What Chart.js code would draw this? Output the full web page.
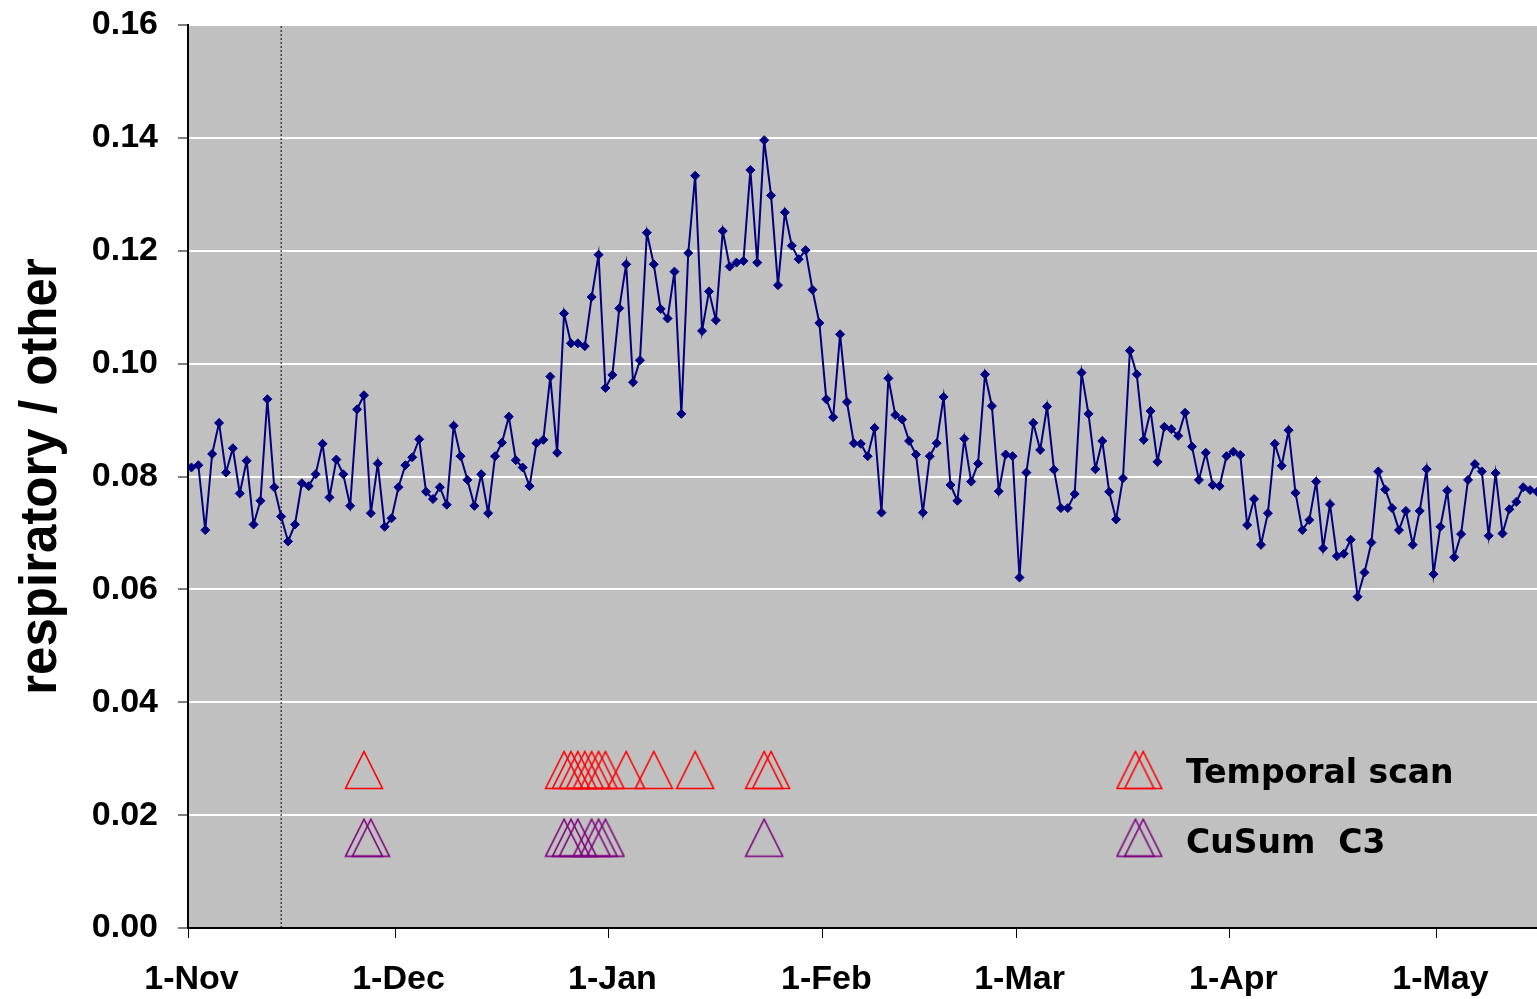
<!DOCTYPE html>
<html>
<head>
<meta charset="utf-8">
<script src="https://cdn.jsdelivr.net/npm/chart.js@4.4.0/dist/chart.umd.min.js"></script>
<style>
  html, body { margin: 0; padding: 0; background: #ffffff; }
</style>
</head>
<body>
<canvas id="chart" width="1537" height="999"></canvas>
<script>
// daily respiratory / other ratio, day 0 = 1-Nov
const ratio = [
  0.0816, 0.0820, 0.0705, 0.0840, 0.0895, 0.0807, 0.0850, 0.0770, 0.0828, 0.0715,
  0.0757, 0.0937, 0.0781, 0.0729, 0.0685, 0.0715, 0.0788, 0.0783, 0.0804, 0.0858,
  0.0763, 0.0830, 0.0804, 0.0748, 0.0919, 0.0944, 0.0735, 0.0823, 0.0711, 0.0726,
  0.0781, 0.0820, 0.0834, 0.0866, 0.0773, 0.0760, 0.0781, 0.0750, 0.0890, 0.0836,
  0.0794, 0.0748, 0.0804, 0.0735, 0.0836, 0.0860, 0.0906, 0.0829, 0.0816, 0.0783,
  0.0859, 0.0865, 0.0977, 0.0842, 0.1089, 0.1036, 0.1036, 0.1031, 0.1118, 0.1193,
  0.0957, 0.0980, 0.1098, 0.1176, 0.0967, 0.1006, 0.1232, 0.1176, 0.1097, 0.1080,
  0.1163, 0.0911, 0.1196, 0.1333, 0.1058, 0.1128, 0.1077, 0.1235, 0.1172, 0.1179,
  0.1182, 0.1343, 0.1179, 0.1396, 0.1298, 0.1139, 0.1268, 0.1209, 0.1185, 0.1201,
  0.1131, 0.1072, 0.0937, 0.0905, 0.1052, 0.0932, 0.0859, 0.0858, 0.0836, 0.0886,
  0.0736, 0.0974, 0.0909, 0.0901, 0.0863, 0.0839, 0.0736, 0.0836, 0.0859, 0.0941,
  0.0785, 0.0757, 0.0867, 0.0791, 0.0823, 0.0981, 0.0925, 0.0774, 0.0839, 0.0836,
  0.0621, 0.0807, 0.0895, 0.0847, 0.0924, 0.0812, 0.0744, 0.0744, 0.0769, 0.0984,
  0.0911, 0.0813, 0.0863, 0.0773, 0.0724, 0.0797, 0.1023, 0.0981, 0.0865, 0.0916,
  0.0826, 0.0888, 0.0884, 0.0872, 0.0913, 0.0853, 0.0794, 0.0842, 0.0785, 0.0783,
  0.0836, 0.0844, 0.0838, 0.0714, 0.0760, 0.0679, 0.0735, 0.0858, 0.0819, 0.0882,
  0.0771, 0.0705, 0.0723, 0.0791, 0.0673, 0.0751, 0.0659, 0.0663, 0.0688, 0.0587,
  0.0630, 0.0683, 0.0809, 0.0777, 0.0744, 0.0705, 0.0739, 0.0679, 0.0739, 0.0813,
  0.0627, 0.0711, 0.0775, 0.0657, 0.0698, 0.0794, 0.0822, 0.0809, 0.0695, 0.0806,
  0.0699, 0.0742, 0.0755, 0.0781, 0.0776, 0.0773
];

// month starts (day index) and their labels
const monthTicks = [0, 30, 61, 92, 120, 151, 181];
const monthLabels = ['1-Nov', '1-Dec', '1-Jan', '1-Feb', '1-Mar', '1-Apr', '1-May'];

// alarm days for the two detection methods
const scanDays = [25, 54, 55, 56, 57, 58, 59, 60, 63, 67, 73, 83, 84];
const cusumDays = [25, 26, 54, 55, 56, 58, 59, 60, 83];
const scanLevel = 0.028;
const cusumLevel = 0.016;

// start of the evaluation period (dotted line)
const markerDay = 13;

const yTicks = [0, 0.02, 0.04, 0.06, 0.08, 0.10, 0.12, 0.14, 0.16];

function makeTriangle(color) {
  const c = document.createElement('canvas');
  c.width = 40;
  c.height = 40;
  const g = c.getContext('2d');
  g.strokeStyle = color;
  g.lineWidth = 1.6;
  g.beginPath();
  g.moveTo(20, 1.5);
  g.lineTo(38.5, 38.5);
  g.lineTo(1.5, 38.5);
  g.closePath();
  g.stroke();
  return c;
}

const redTri = makeTriangle('#ff0000');
const purpleTri = makeTriangle('#800080');

const plotBackground = {
  id: 'plotBackground',
  beforeDraw(chart) {
    const a = chart.chartArea;
    const ctx = chart.ctx;
    ctx.save();
    ctx.fillStyle = '#c0c0c0';
    ctx.fillRect(a.left, a.top, a.right - a.left, a.bottom - a.top);
    ctx.restore();
  }
};

// legend drawn inside the plot, next to the alarm rows
const alarmLegend = {
  id: 'alarmLegend',
  afterDraw(chart) {
    const ctx = chart.ctx;
    const y = chart.scales.y;
    const rows = [
      { img: redTri, level: scanLevel, text: 'Temporal scan', dy: 4 },
      { img: purpleTri, level: cusumLevel, text: 'CuSum  C3', dy: 7 }
    ];
    ctx.save();
    ctx.font = 'bold 33px "DejaVu Sans"';
    ctx.fillStyle = '#000000';
    ctx.textBaseline = 'middle';
    rows.forEach(r => {
      const py = y.getPixelForValue(r.level);
      ctx.drawImage(r.img, 1135.5 - 20, py - 20);
      ctx.drawImage(r.img, 1143.2 - 20, py - 20);
      ctx.fillText(r.text, 1186, py + r.dy);
    });
    ctx.restore();
  }
};

const tickFont = { family: '"Liberation Sans", Arial, sans-serif', size: 34, weight: 'bold' };

new Chart(document.getElementById('chart'), {
  type: 'scatter',
  data: {
    datasets: [
      {
        label: 'ratio',
        data: ratio.map((v, i) => ({ x: i + 0.5, y: v })),
        showLine: true,
        borderColor: '#000080',
        borderWidth: 2,
        pointStyle: 'rectRot',
        pointRadius: 4.5,
        pointBackgroundColor: '#000080',
        pointBorderColor: '#000080',
        pointBorderWidth: 1,
        order: 2
      },
      {
        label: 'start',
        data: [{ x: markerDay + 0.5, y: 0 }, { x: markerDay + 0.5, y: 0.16 }],
        showLine: true,
        borderColor: '#000000',
        borderWidth: 1,
        borderDash: [2, 2],
        pointRadius: 0,
        order: 3
      },
      {
        label: 'Temporal scan',
        data: scanDays.map(d => ({ x: d + 0.5, y: scanLevel })),
        pointStyle: redTri,
        pointRadius: 10,
        order: 1
      },
      {
        label: 'CuSum  C3',
        data: cusumDays.map(d => ({ x: d + 0.5, y: cusumLevel })),
        pointStyle: purpleTri,
        pointRadius: 10,
        order: 1
      }
    ]
  },
  options: {
    responsive: false,
    animation: false,
    devicePixelRatio: 1,
    layout: { autoPadding: false, padding: { top: 25, right: 0, left: 0, bottom: 0 } },
    plugins: {
      legend: { display: false },
      tooltip: { enabled: false }
    },
    scales: {
      x: {
        type: 'linear',
        min: 0,
        max: 195.5,
        afterBuildTicks: function(scale) {
          scale.ticks = monthTicks.map(v => ({ value: v }));
        },
        afterFit: function(scale) {
          scale.height = 71;
          scale.paddingLeft = 0;
          scale.paddingRight = 0;
        },
        ticks: {
          autoSkip: false,
          maxRotation: 0,
          color: '#000000',
          font: tickFont,
          padding: 21,
          labelOffset: 3.5,
          callback: function(value) {
            return monthLabels[monthTicks.indexOf(value)];
          }
        },
        grid: {
          drawOnChartArea: false,
          drawTicks: true,
          tickLength: 10,
          tickColor: '#000000',
          tickWidth: 1
        },
        border: { display: true, color: '#000000', width: 2 }
      },
      y: {
        min: 0,
        max: 0.16,
        afterBuildTicks: function(scale) {
          scale.ticks = yTicks.map(v => ({ value: v }));
        },
        afterFit: function(scale) {
          scale.width = 188;
          scale.paddingTop = 0;
          scale.paddingBottom = 0;
        },
        ticks: {
          color: '#000000',
          font: tickFont,
          padding: 20,
          callback: function(value) {
            return value.toFixed(2);
          }
        },
        grid: {
          color: function(ctx) {
            return ctx.tick && ctx.tick.value === 0 ? 'rgba(0,0,0,0)' : '#ffffff';
          },
          lineWidth: 2,
          drawTicks: true,
          tickLength: 10,
          tickColor: '#000000',
          tickWidth: 1
        },
        border: { display: true, color: '#000000', width: 2 },
        title: {
          display: true,
          text: 'respiratory / other',
          color: '#000000',
          font: { family: '"Liberation Sans", Arial, sans-serif', size: 51, weight: 'bold', lineHeight: 1 },
          padding: { top: 16, bottom: 0 }
        }
      }
    }
  },
  plugins: [plotBackground, alarmLegend]
});
</script>
</body>
</html>
